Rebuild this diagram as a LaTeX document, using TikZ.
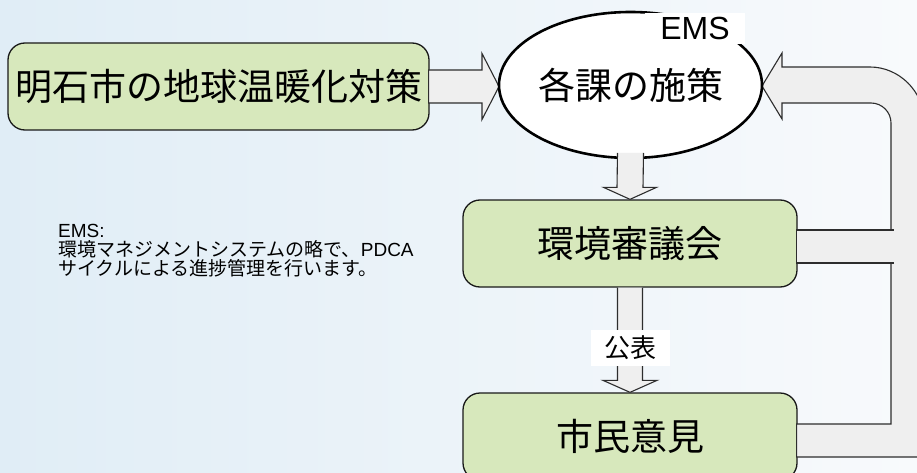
\documentclass[tikz,border=0pt]{standalone}
\usepackage{fontspec}
\setmainfont{Liberation Sans}
\newfontfamily\jp{Noto Sans CJK JP}
\usetikzlibrary{shapes.geometric,calc}
\definecolor{boxgreen}{RGB}{215,232,188}
\definecolor{arrowfill}{RGB}{239,239,239}
\definecolor{arrowline}{RGB}{45,45,45}
\definecolor{bgleft}{RGB}{224,237,246}
\definecolor{bgright}{RGB}{248,250,252}
\tikzset{
  greenbox/.style={draw=black!90, line width=1.3pt, fill=boxgreen, rounded corners=17pt,
     minimum width=334pt, minimum height=87pt, inner sep=0pt,
     font=\jp\fontsize{37}{37}\selectfont},
  barrow/.style={draw=arrowline, line width=1.1pt, fill=arrowfill, line join=miter},
  notetext/.style={anchor=base west, inner sep=0pt, font=\fontsize{19}{19}\selectfont},
}
\begin{document}
\begin{tikzpicture}[x=1pt,y=-1pt]
\useasboundingbox (0,0) rectangle (917,473);
\clip (0,0) rectangle (917,473);
\fill[left color=bgleft, right color=bgright] (0,0) rectangle (917,473);

% nodes
\node[greenbox, minimum width=421pt] (plan) at (218.5,86.5) {明石市の地球温暖化対策};
\node[greenbox] (council) at (630,243.5) {環境審議会};
\node[greenbox] (citizen) at (630,436.5) {\raisebox{2pt}{市民意見}};

% arrow from plan to ellipse (drawn before the ellipse)
\coordinate (tipL) at (499,86.5);
\draw[barrow] ($(plan.east)+(-1,-16.5)$) -- ($(tipL)+(-17,-16.5)$) -- ($(tipL)+(-17,-33)$)
   -- (tipL) -- ($(tipL)+(-17,33)$) -- ($(tipL)+(-17,16.5)$) -- ($(plan.east)+(-1,16.5)$) -- cycle;

% feedback pipe from citizen / council back to the ellipse
\coordinate (tipR) at (762,86);
\coordinate (barB) at ($(citizen.east)+(-1,4)$);
\draw[barrow] ($(barB)+(0,-16.5)$) -- (891,424) -- (891,123)
   .. controls (891,112) and (882,103) .. (871,103)
   -- ($(tipR)+(20,17)$) -- ($(tipR)+(20,33)$) -- (tipR) -- ($(tipR)+(20,-33)$) -- ($(tipR)+(20,-19)$)
   -- (870,67) .. controls (899.3,67) and (924,91.7) .. (924,121)
   -- (924,457) -- ($(barB)+(0,16.5)$) -- cycle;
\coordinate (barC) at ($(council.east)+(-1,3)$);
\fill[arrowfill] ($(barC)+(0,-16.5)$) rectangle (893.5,263);
\draw[barrow, fill=none] (893.5,230) -- ($(barC)+(0,-16.5)$) -- ($(barC)+(0,16.5)$) -- (893.5,263);

% ellipse
\node[ellipse, draw=black, line width=2.6pt, fill=white, minimum width=263pt, minimum height=146pt,
      inner sep=0pt, font=\jp\fontsize{37}{37}\selectfont] (measures) at (630.5,85) {\raisebox{-3pt}{各課の施策}};
\node[fill=white, minimum width=100pt, minimum height=31pt, inner sep=0pt,
      font=\fontsize{32}{32}\selectfont] (ems) at (695,28.5) {EMS};

% down arrows
\coordinate (d1) at (630.5,157);
\draw[barrow] ($(d1)+(-13,-4)$) -- ($(council.north)+(-13,-12)$) -- ($(council.north)+(-26.5,-12)$)
   -- (council.north) -- ($(council.north)+(26.5,-12)$) -- ($(council.north)+(13,-12)$) -- ($(d1)+(13,-4)$);
\draw[barrow] ($(council.south)+(-12.5,0)$) -- ($(citizen.north)+(-12.5,-12)$) -- ($(citizen.north)+(-27,-12)$)
   -- (citizen.north) -- ($(citizen.north)+(27,-12)$) -- ($(citizen.north)+(12.5,-12)$) -- ($(council.south)+(12.5,0)$);
\node[fill=white, minimum width=79pt, minimum height=36pt, inner sep=0pt,
      font=\jp\fontsize{26}{26}\selectfont] (publish) at (630.5,348) {公表};

% note
\node[notetext] (note1) at (58,237) {EMS:};
\node[notetext] (note2) at (58,256) {{\jp 環境マネジメントシステムの略で、}PDCA};
\node[notetext] (note3) at (58,275) {\jp サイクルによる進捗管理を行います。};
\end{tikzpicture}
\end{document}
